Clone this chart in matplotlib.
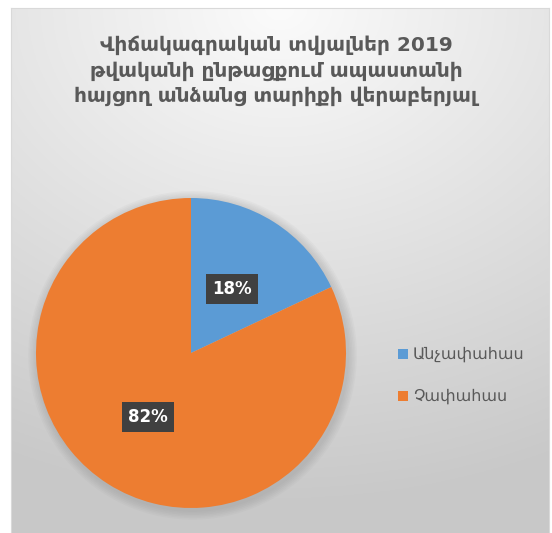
import numpy as np
import matplotlib
matplotlib.use('Agg')
import matplotlib.pyplot as plt

title = "Վիճակագրական տվյալներ 2019\nթվականի ընթացքում ապաստանի\nհայցող անձանց տարիքի վերաբերյալ"
labels = ["Անչափահաս", "Չափահաս"]
shares = [18, 82]
colors = ["#5b9bd5", "#ed7d31"]

plt.rcParams['font.family'] = ['DejaVu Sans']

fig = plt.figure(figsize=(5.52, 5.33), dpi=100)
fig.patch.set_facecolor("white")

# background panel with radial gradient (light at top centre, grey at bottom)
bg = fig.add_axes([11 / 552, 0, 538 / 552, 525 / 533])
yy, xx = np.mgrid[0:1:300j, 0:1:300j]
dist = np.sqrt(((xx - 0.5) * 0.8) ** 2 + (yy * 1.0) ** 2)
val = 0.985 - 0.20 * np.clip(dist / 0.95, 0, 1)
bg.imshow(np.dstack([val, val, val]), extent=[0, 1, 0, 1], origin="upper", aspect="auto")
bg.set_xticks([])
bg.set_yticks([])
for s in bg.spines.values():
    s.set_color("#d9d9d9")

fig.text(0.5, 1 - 71 / 533, title, ha="center", va="center", fontsize=14.5,
         color="#595959", fontweight="bold", linespacing=1.38)

# pie
cx, cy, r = 191, 353, 155
ax = fig.add_axes([(cx - r) / 552, 1 - (cy + r) / 533, 2 * r / 552, 2 * r / 533])
# soft shadow
for k in range(6):
    ax.add_patch(plt.Circle((0.01, -0.015), 1.0 + 0.01 * (k + 1), color="#808080",
                            alpha=0.05, zorder=0, lw=0, clip_on=False))
wedges, _ = ax.pie(shares, colors=colors, startangle=90, counterclock=False,
                   radius=1.0, wedgeprops=dict(linewidth=0))
for w in wedges:
    w.set_zorder(2)

label_pos = [(232, 289), (148, 417)]
for v, (px, py) in zip(shares, label_pos):
    fig.text(px / 552, 1 - py / 533, "{}%".format(v), ha="center", va="center",
             fontsize=12, fontweight="bold", color="white",
             bbox=dict(boxstyle="square,pad=0.35", facecolor="#404040", edgecolor="none"))
ax.set_xlim(-1, 1)
ax.set_ylim(-1, 1)
ax.set_aspect("auto")
ax.axis("off")

# legend
for i, (lab, c) in enumerate(zip(labels, colors)):
    ly = 354 + 42 * i
    fig.patches.append(plt.Rectangle((398 / 552, 1 - (ly + 5) / 533), 10 / 552, 10 / 533,
                                     transform=fig.transFigure, facecolor=c, edgecolor="none"))
    fig.text(413 / 552, 1 - ly / 533, lab, ha="left", va="center", fontsize=11.5,
             color="#595959")

plt.savefig("out.png", dpi=100)
plt.close()
